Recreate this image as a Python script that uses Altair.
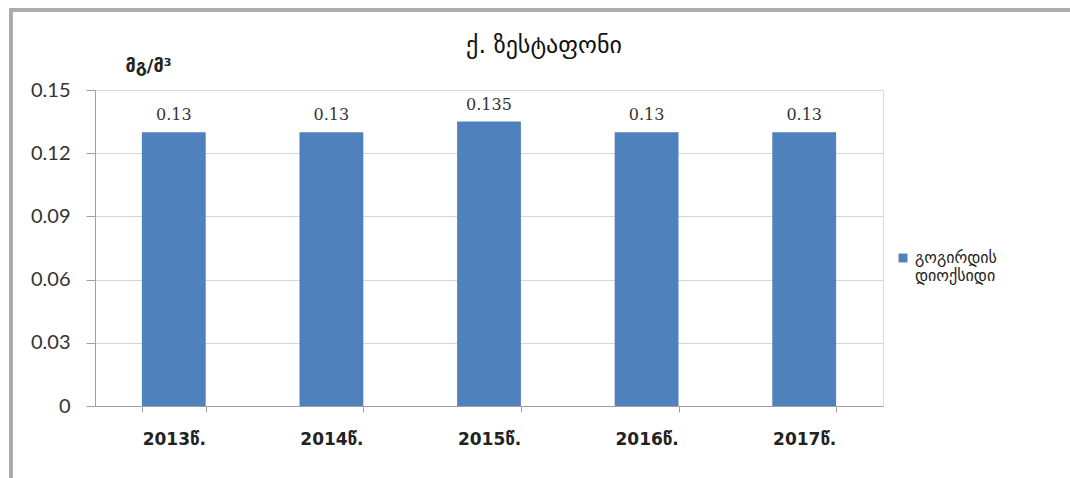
import altair as alt
import pandas as pd

# Annual mean sulphur dioxide concentration, Zestaponi
title_text = "ქ. ზესტაფონი"
years = ["2013წ.", "2014წ.", "2015წ.", "2016წ.", "2017წ."]
values = [0.13, 0.13, 0.135, 0.13, 0.13]
series_name = "გოგირდის დიოქსიდი"
y_ticks = [0, 0.03, 0.06, 0.09, 0.12, 0.15]

df = pd.DataFrame({"year": years, "value": values, "series": [series_name] * len(years)})

BLUE = "#4F81BD"
GEO = "DejaVu Sans"
NUM = "Lato"

PLOT_W, PLOT_H = 788, 316
PAD_L, PAD_T = 95, 90

x_enc = alt.X(
    "year:N",
    sort=years,
    title=None,
    scale=alt.Scale(paddingInner=0.595, paddingOuter=0.2975),
    axis=alt.Axis(
        labelAngle=0,
        labelFont=GEO,
        labelFontSize=17,
        labelFontWeight="bold",
        labelColor="#222222",
        labelPadding=19,
        tickBand="extent",
        tickSize=6,
        tickColor="#a0a0a0",
        domainColor="#a0a0a0",
        grid=False,
    ),
)

bars = alt.Chart(df).mark_bar(color=BLUE).encode(
    x=x_enc,
    y=alt.Y(
        "value:Q",
        scale=alt.Scale(domain=[0, 0.15], nice=False),
        axis=alt.Axis(
            values=y_ticks,
            format=".2~f",
            title="მგ/მ³",
            titleFont=GEO,
            titleFontSize=18,
            titleFontWeight="bold",
            titleColor="#222222",
            titleAngle=0,
            titleAlign="center",
            titleBaseline="middle",
            titleX=53,
            titleY=-24,
            labelFont=NUM,
            labelFontSize=20,
            labelColor="#333333",
            labelPadding=16,
            tickSize=9,
            tickColor="#a0a0a0",
            domainColor="#a0a0a0",
            gridColor="#d6d6d6",
        ),
    ),
    color=alt.Color(
        "series:N",
        scale=alt.Scale(range=[BLUE]),
        legend=alt.Legend(
            title=None,
            orient="none",
            legendX=800,
            legendY=160,
            symbolType="square",
            symbolSize=80,
            labelFont=GEO,
            labelFontSize=16,
            labelColor="#222222",
            labelExpr="split(datum.label, ' ')",
            labelLimit=200,
        ),
    ),
)

labels = alt.Chart(df).mark_text(
    baseline="bottom", dy=-9, font="DejaVu Serif", fontSize=16, color="#333333"
).encode(
    x=alt.X("year:N", sort=years),
    y=alt.Y("value:Q"),
    text=alt.Text("value:Q", format=".3~f"),
)

# Chart heading, drawn as a text mark above the plot area
heading = alt.Chart(pd.DataFrame({"t": [title_text]})).mark_text(
    font=GEO, fontSize=24, color="#111111", align="center", baseline="middle", clip=False
).encode(
    text="t:N",
    x=alt.value(544 - PAD_L),
    y=alt.value(46 - PAD_T),
)

# Grey frame around the chart area (top and left edges visible)
frame = alt.Chart(df).mark_rect(
    fill=None, stroke="#ababab", strokeWidth=3, clip=False
).encode(
    x=alt.value(11 - PAD_L),
    x2=alt.value(1100 - PAD_L),
    y=alt.value(10 - PAD_T),
    y2=alt.value(500 - PAD_T),
)

chart = (
    alt.layer(frame, bars, labels, heading)
    .properties(
        width=PLOT_W,
        height=PLOT_H,
        autosize="none",
        padding={"left": PAD_L, "top": PAD_T, "right": 1070 - PAD_L - PLOT_W, "bottom": 478 - PAD_T - PLOT_H},
    )
    .configure_view(stroke=None)
    .configure(background="white")
)

chart.save("out.html", embed_options={"renderer": "svg", "actions": False})
